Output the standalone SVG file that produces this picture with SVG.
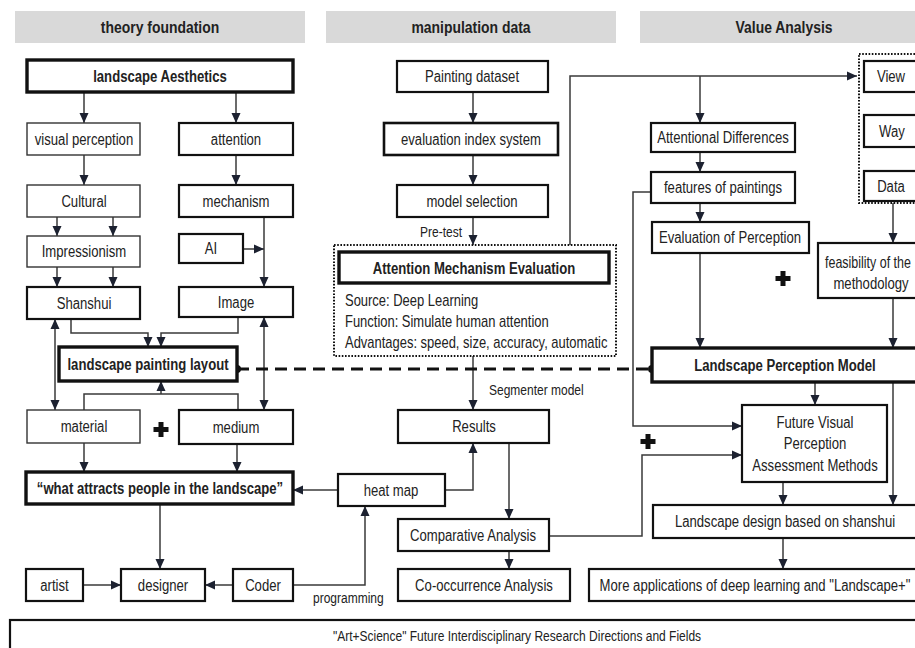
<svg xmlns="http://www.w3.org/2000/svg" width="915" height="648" viewBox="0 0 915 648">
<style>
text{font-family:"Liberation Sans",Arial,sans-serif;fill:#222;font-size:16px}
.c{text-anchor:middle}
.b{font-weight:bold}
.h{font-size:17px}
.hd{fill:#d9d9d9}
.bx{fill:#fff;stroke:#111;stroke-width:2.2}
.thin{fill:#fff;stroke:#333;stroke-width:1.4}
.thick{fill:#fff;stroke:#111;stroke-width:3.4}
.dot{fill:none;stroke:#111;stroke-width:2;stroke-dasharray:1.6 1.6}
.ln{fill:none;stroke:#3a3a3a;stroke-width:1.5}
.ar{marker-end:url(#ah)}
.dash{fill:none;stroke:#111;stroke-width:3;stroke-dasharray:12 7}
.plus{fill:#111}
.sm{font-size:15px}
</style>
<defs>
<marker id="ah" markerUnits="userSpaceOnUse" markerWidth="10" markerHeight="10" viewBox="0 0 10 10" refX="10" refY="5" orient="auto">
<path d="M0,0.5 L10,5 L0,9.5 Z" fill="#1c2130"/>
</marker>
<marker id="as" markerUnits="userSpaceOnUse" markerWidth="10" markerHeight="10" viewBox="0 0 10 10" refX="0" refY="5" orient="auto">
<path d="M10,0.5 L0,5 L10,9.5 Z" fill="#1c2130"/>
</marker>
</defs>
<rect width="915" height="648" fill="#fff"/>

<g id="headers">
<rect class="hd" x="15" y="11" width="290" height="32"/>
<text class="c b h" transform="matrix(0.82 0 0 1 160 0)" y="33">theory foundation</text>
<rect class="hd" x="326" y="11" width="290" height="32"/>
<text class="c b h" transform="matrix(0.82 0 0 1 471 0)" y="33">manipulation data</text>
<rect class="hd" x="640" y="11" width="290" height="32"/>
<text class="c b h" transform="matrix(0.82 0 0 1 784 0)" y="33">Value Analysis</text>
</g>

<g id="connectors">
<path class="ln ar" d="M84,92 V123"/>
<path class="ln ar" d="M236,92 V123"/>
<path class="ln ar" d="M84,155 V185"/>
<path class="ln ar" d="M236,155 V185"/>
<path class="ln ar" d="M57,217 V236"/>
<path class="ln ar" d="M113,217 V236"/>
<path class="ln ar" d="M57,267 V287"/>
<path class="ln ar" d="M113,267 V287"/>
<path class="ln ar" d="M264,217 V287"/>
<path class="ln ar" d="M243,249 H264"/>
<path class="ln ar" d="M71,319 V333 H148 V347"/>
<path class="ln ar" d="M238,317 V333 H161 V347"/>
<path class="ln ar" d="M55,319 V410" marker-start="url(#as)"/>
<path class="ln ar" d="M264,317 V410" marker-start="url(#as)"/>
<path class="ln" d="M84,410 V394 H238 V410"/>
<path class="ln ar" d="M161,394 V381"/>
<path class="ln ar" d="M84,443 V472"/>
<path class="ln ar" d="M237,444 V472"/>
<path class="ln ar" d="M160,504 V569"/>
<path class="ln ar" d="M83,585 H121"/>
<path class="ln ar" d="M233,585 H205"/>
<path class="ln ar" d="M293,585 H365 V506"/>
<path class="ln ar" d="M338,490 H293"/>
<path class="ln ar" d="M445,490 H473 V443"/>
<path class="ln ar" d="M473,92 V123"/>
<path class="ln ar" d="M473,155 V185"/>
<path class="ln ar" d="M473,217 V245"/>
<path class="ln ar" d="M473,356 V410"/>
<path class="ln ar" d="M509,443 V519"/>
<path class="ln ar" d="M509,551 V569"/>
<path class="ln ar" d="M549,536 H642 V455 H742"/>
<path class="ln ar" d="M570,245 V76 H857"/>
<path class="ln ar" d="M700,76 V123"/>
<path class="ln ar" d="M700,152 V172"/>
<path class="ln ar" d="M700,203 V222"/>
<path class="ln ar" d="M651,192 H633 V426 H742"/>
<path class="ln ar" d="M700,253 V348"/>
<path class="ln ar" d="M893,203 V243"/>
<path class="ln ar" d="M893,298 V348"/>
<path class="ln ar" d="M815,382 V405"/>
<path class="ln ar" d="M893,382 V505"/>
<path class="ln ar" d="M783,482 V505"/>
<path class="ln ar" d="M783,538 V569"/>
<path class="dash" d="M237,369 H652"/>
<circle cx="237" cy="369" r="4" fill="#111"/>
<circle cx="652" cy="369" r="4" fill="#111"/>
<text class="sm" transform="matrix(0.8 0 0 1 420 0)" y="237">Pre-test</text>
<text class="sm" transform="matrix(0.8 0 0 1 489 0)" y="395">Segmenter model</text>
<text class="sm" transform="matrix(0.8 0 0 1 313 0)" y="603">programming</text>
</g>

<g id="n_aesth"><rect class="thick" x="27" y="60" width="266" height="32"/><text class="c b" transform="matrix(0.82 0 0 1 160 0)" y="82">landscape Aesthetics</text></g>
<g id="n_visual"><rect class="thin" x="27" y="123" width="113" height="32"/><text class="c" transform="matrix(0.82 0 0 1 84 0)" y="145">visual perception</text></g>
<g id="n_attention"><rect class="bx" x="179" y="123" width="114" height="32"/><text class="c" transform="matrix(0.82 0 0 1 236 0)" y="145">attention</text></g>
<g id="n_cultural"><rect class="thin" x="27" y="185" width="113" height="32"/><text class="c" transform="matrix(0.82 0 0 1 84 0)" y="207">Cultural</text></g>
<g id="n_mechanism"><rect class="bx" x="179" y="185" width="114" height="32"/><text class="c" transform="matrix(0.82 0 0 1 236 0)" y="207">mechanism</text></g>
<g id="n_impress"><rect class="thin" x="27" y="236" width="113" height="31"/><text class="c" transform="matrix(0.82 0 0 1 84 0)" y="257">Impressionism</text></g>
<g id="n_ai"><rect class="bx" x="179" y="234" width="64" height="29"/><text class="c" transform="matrix(0.82 0 0 1 211 0)" y="254">AI</text></g>
<g id="n_shanshui"><rect class="bx" x="27" y="287" width="113" height="32"/><text class="c" transform="matrix(0.82 0 0 1 84 0)" y="309">Shanshui</text></g>
<g id="n_image"><rect class="bx" x="179" y="287" width="114" height="30"/><text class="c" transform="matrix(0.82 0 0 1 236 0)" y="308">Image</text></g>
<g id="n_layout"><rect class="thick" x="59" y="347" width="178" height="34"/><text class="c b" transform="matrix(0.82 0 0 1 148 0)" y="370">landscape painting layout</text></g>
<g id="n_material"><rect class="thin" x="27" y="410" width="113" height="33"/><text class="c" transform="matrix(0.82 0 0 1 84 0)" y="432">material</text></g>
<g id="n_medium"><rect class="bx" x="179" y="410" width="114" height="34"/><text class="c" transform="matrix(0.82 0 0 1 236 0)" y="433">medium</text></g>
<g id="plus1"><path class="plus" d="M158.5,422 h5 v5 h5 v5 h-5 v5 h-5 v-5 h-5 v-5 h5 z"/></g>
<g id="n_what"><rect class="thick" x="26" y="472" width="267" height="32"/><text class="c b" transform="matrix(0.82 0 0 1 160 0)" y="494">“what attracts people in the landscape”</text></g>
<g id="n_artist"><rect class="bx" x="26" y="569" width="57" height="32"/><text class="c" transform="matrix(0.82 0 0 1 54.5 0)" y="591">artist</text></g>
<g id="n_designer"><rect class="bx" x="121" y="569" width="84" height="32"/><text class="c" transform="matrix(0.82 0 0 1 163 0)" y="591">designer</text></g>
<g id="n_coder"><rect class="bx" x="233" y="569" width="60" height="32"/><text class="c" transform="matrix(0.82 0 0 1 263 0)" y="591">Coder</text></g>

<g id="n_painting"><rect class="bx" x="397" y="61" width="151" height="31"/><text class="c" transform="matrix(0.82 0 0 1 472 0)" y="82">Painting dataset</text></g>
<g id="n_evalidx"><rect class="bx" x="384" y="123" width="174" height="32" style="stroke-width:2.6"/><text class="c" transform="matrix(0.82 0 0 1 471 0)" y="145">evaluation index system</text></g>
<g id="n_modelsel"><rect class="bx" x="397" y="185" width="151" height="32"/><text class="c" transform="matrix(0.82 0 0 1 472 0)" y="207">model selection</text></g>
<g id="n_ame">
<rect class="dot" x="334" y="245" width="282" height="111"/>
<rect class="thick" x="339" y="252" width="270" height="31"/>
<text class="c b" transform="matrix(0.82 0 0 1 474 0)" y="274">Attention Mechanism Evaluation</text>
<text transform="matrix(0.81 0 0 1 345 0)" y="306">Source: Deep Learning</text>
<text transform="matrix(0.81 0 0 1 345 0)" y="327">Function: Simulate human attention</text>
<text transform="matrix(0.81 0 0 1 345 0)" y="348">Advantages: speed, size, accuracy, automatic</text>
</g>
<g id="n_results"><rect class="bx" x="398" y="410" width="151" height="33"/><text class="c" transform="matrix(0.82 0 0 1 474 0)" y="432">Results</text></g>
<g id="n_heatmap"><rect class="bx" x="338" y="474" width="107" height="32"/><text class="c" transform="matrix(0.82 0 0 1 391 0)" y="496">heat map</text></g>
<g id="n_comparative"><rect class="bx" x="398" y="519" width="151" height="32"/><text class="c" transform="matrix(0.82 0 0 1 473 0)" y="541">Comparative Analysis</text></g>
<g id="n_cooccur"><rect class="bx" x="398" y="569" width="172" height="32"/><text class="c" transform="matrix(0.82 0 0 1 484 0)" y="591">Co-occurrence Analysis</text></g>

<g id="n_attdiff"><rect class="bx" x="651" y="123" width="144" height="29"/><text class="c" transform="matrix(0.82 0 0 1 723 0)" y="143">Attentional Differences</text></g>
<g id="n_features"><rect class="bx" x="651" y="172" width="144" height="31"/><text class="c" transform="matrix(0.82 0 0 1 723 0)" y="193">features of paintings</text></g>
<g id="n_evalperc"><rect class="bx" x="652" y="222" width="157" height="31"/><text class="c" transform="matrix(0.82 0 0 1 730 0)" y="243">Evaluation of Perception</text></g>
<g id="n_vwd">
<rect class="dot" x="859" y="54" width="70" height="149"/>
<rect class="bx" x="864" y="61" width="66" height="31"/><text class="c" transform="matrix(0.82 0 0 1 891 0)" y="82">View</text>
<rect class="bx" x="864" y="115" width="66" height="32"/><text class="c" transform="matrix(0.82 0 0 1 892 0)" y="137">Way</text>
<rect class="bx" x="864" y="171" width="66" height="30"/><text class="c" transform="matrix(0.82 0 0 1 891 0)" y="192">Data</text>
</g>
<g id="plus2"><path class="plus" d="M780.5,271 h5 v5 h5 v5 h-5 v5 h-5 v-5 h-5 v-5 h5 z"/></g>
<g id="n_feasib"><rect class="bx" x="818" y="243" width="120" height="55"/><text transform="matrix(0.78 0 0 1 825 0)" y="268">feasibility of the</text><text class="c" transform="matrix(0.82 0 0 1 871 0)" y="289">methodology</text></g>
<g id="n_lpm"><rect class="thick" x="652" y="348" width="280" height="34"/><text class="c b" transform="matrix(0.82 0 0 1 785 0)" y="371">Landscape Perception Model</text></g>
<g id="n_future"><rect class="bx" x="742" y="405" width="145" height="77"/><text class="c" transform="matrix(0.82 0 0 1 815 0)" y="428">Future Visual</text><text class="c" transform="matrix(0.82 0 0 1 815 0)" y="449">Perception</text><text class="c" transform="matrix(0.82 0 0 1 815 0)" y="471">Assessment Methods</text></g>
<g id="plus3"><path class="plus" d="M645.5,434 h5 v5 h5 v5 h-5 v5 h-5 v-5 h-5 v-5 h5 z"/></g>
<g id="n_design"><rect class="bx" x="653" y="505" width="280" height="33"/><text class="c" transform="matrix(0.82 0 0 1 785 0)" y="527">Landscape design based on shanshui</text></g>
<g id="n_more"><rect class="bx" x="589" y="569" width="340" height="32"/><text class="c" transform="matrix(0.82 0 0 1 755 0)" y="591">More applications of deep learning and "Landscape+"</text></g>
<g id="n_bottom"><rect class="bx" x="10" y="620" width="920" height="40"/><text class="c sm" transform="matrix(0.8 0 0 1 517 0)" y="641">"Art+Science" Future Interdisciplinary Research Directions and Fields</text></g>
</svg>
